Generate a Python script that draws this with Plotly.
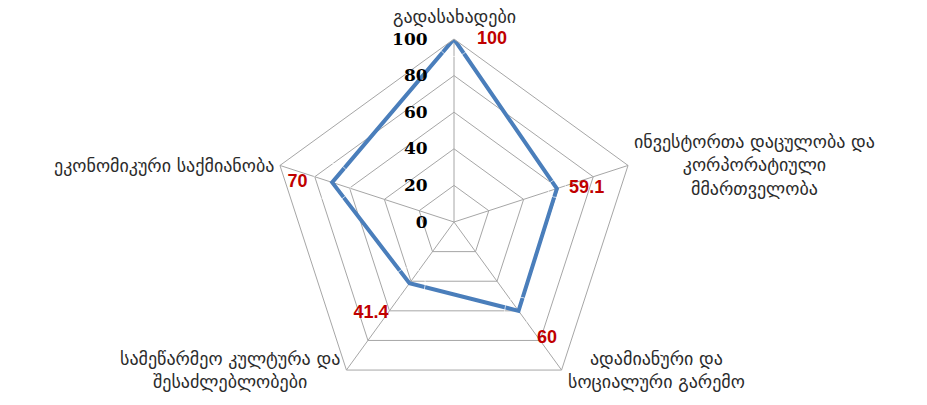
import math
import plotly.graph_objects as go

categories = [
    "გადასახადები",
    "ინვესტორთა დაცულობა და<br>კორპორატიული<br>მმართველობა",
    "ადამიანური და<br>სოციალური გარემო",
    "სამეწარმეო კულტურა და<br>შესაძლებლობები",
    "ეკონომიკური საქმიანობა",
]
values = [100, 59.1, 60, 41.4, 70]
radial_ticks = [0, 20, 40, 60, 80, 100]

# pad tick texts with figure spaces so they line up on the right
radial_ticktext = [f"{t:>3}".replace(" ", "\u2007") for t in radial_ticks]

label_text = [f"{v:g}" for v in values]
label_pos = ["middle right", "middle right", "bottom right", "bottom left", "middle left"]
label_pad = [35, 18, 28, 32, 38]

W, H = 927, 405
CX, CY, R = 454, 222, 183  # polar centre / radius in pixels

fig = go.Figure()
fig.add_trace(go.Scatterpolar(
    r=values + [values[0]],
    theta=categories + [categories[0]],
    mode="lines",
    line=dict(color="#4A7EBB", width=4),
    hoverinfo="skip",
    showlegend=False,
))
fig.add_trace(go.Scatterpolar(
    r=values,
    theta=categories,
    mode="markers+text",
    marker=dict(size=label_pad, color="rgba(0,0,0,0)"),
    text=label_text,
    textposition=label_pos,
    textfont=dict(family="Liberation Sans", size=18, color="#C00000", weight="bold"),
    hoverinfo="skip",
    showlegend=False,
))

# category labels placed just outside each vertex of the outer pentagon
annotations = []
n = len(categories)
for i, cat in enumerate(categories):
    a = math.radians(90 - 360 / n * i)
    vx = CX + R * math.cos(a)
    vy = CY - R * math.sin(a)
    c = math.cos(a)
    if abs(c) < 0.1:
        xanchor, yanchor, xs, ys = "center", "bottom", 0, 10
    elif c > 0:
        xanchor, yanchor, xs, ys = "left", "middle", 4, 0
    else:
        xanchor, yanchor, xs, ys = "right", "middle", -4, 0
    annotations.append(dict(
        x=vx / W, y=(H - vy) / H, xref="paper", yref="paper",
        text=cat, showarrow=False, align="center",
        xanchor=xanchor, yanchor=yanchor, xshift=xs, yshift=ys,
        font=dict(family="DejaVu Sans", size=18, color="#2b2b2b"),
    ))

fig.update_layout(
    width=W, height=H,
    margin=dict(l=0, r=0, t=0, b=0),
    paper_bgcolor="white",
    plot_bgcolor="white",
    annotations=annotations,
    polar=dict(
        domain=dict(x=[(CX - R) / W, (CX + R) / W],
                    y=[(H - CY - R) / H, (H - CY + R) / H]),
        bgcolor="white",
        gridshape="linear",
        radialaxis=dict(
            range=[0, 100],
            tickvals=radial_ticks,
            ticktext=radial_ticktext,
            showline=False,
            angle=90,
            side="counterclockwise",
            tickangle=90,
            ticks="outside",
            ticklen=20,
            tickcolor="rgba(0,0,0,0)",
            gridcolor="#A6A6A6",
            gridwidth=1,
            tickfont=dict(family="DejaVu Serif", size=17, color="#000000", weight="bold"),
        ),
        angularaxis=dict(
            rotation=90,
            direction="clockwise",
            showline=True,
            linecolor="#A6A6A6",
            linewidth=1,
            gridcolor="#A6A6A6",
            gridwidth=1,
            ticks="",
            showticklabels=False,
        ),
    ),
)

fig.write_html("out.html")
